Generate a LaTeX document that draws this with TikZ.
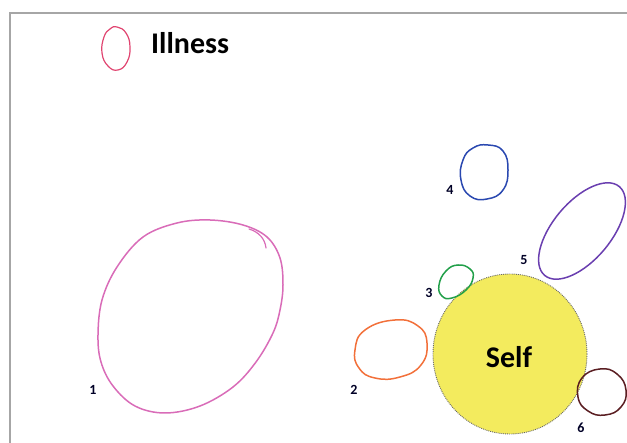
\documentclass[tikz,border=0pt]{standalone}
\usepackage{fontspec}
\setmainfont{Carlito}
\begin{document}
\begin{tikzpicture}[x=1pt,y=-1pt,
  pen/.style={line width=1.5pt,line cap=round,line join=round},
  numlabel/.style={font=\fontsize{14}{14}\selectfont\bfseries,text=black!85!blue,inner sep=0pt},
  bigtext/.style={font=\fontsize{30}{30}\selectfont\bfseries,inner sep=0pt}]
\definecolor{cpink}{HTML}{D96CB8}
\definecolor{clegend}{HTML}{E04470}
\definecolor{corange}{HTML}{F2703A}
\definecolor{cgreen}{HTML}{22A04A}
\definecolor{cblue}{HTML}{2A48B0}
\definecolor{cpurple}{HTML}{6A3FB0}
\definecolor{cbrown}{HTML}{5A1E22}
\definecolor{cyellow}{HTML}{F3EB5E}
\definecolor{cframe}{HTML}{A6A6A6}
\useasboundingbox (0,0) rectangle (627,443);
% frame
\draw[cframe,line width=1.5pt] (10,443) -- (10,13) -- (627,13);
% legend
\draw[pen,clegend,line width=1.2pt] plot[smooth cycle,tension=0.8] coordinates
  {(117,27) (126,33) (130,47) (127,62) (118,70) (108,66) (102,53) (104,37) (110,29)};
\node[bigtext,anchor=west] (illness) at (151,43) {Illness};
% ellipse 1
\draw[pen,cpink] plot[smooth cycle,tension=0.6] coordinates
  {(210,220) (243,225) (267,237) (280,258) (283,285) (280,310) (273,333) (256,362) (233,387)
   (200,406) (165,413) (135,406) (113,386) (101,362) (98,335) (102,300) (117,267) (143,237) (177,223)};
\draw[pen,cpink,line width=1.2pt] (249,229) .. controls (259,232) and (265,239) .. (266,248);
\node[numlabel] (n1) at (93,390) {1};
% self
\draw[fill=cyellow,draw=black!60,line width=0.9pt,densely dotted] (510,354) ellipse [x radius=77,y radius=80];
\node[bigtext] (self) at (509,357) {Self};
% 2 orange
\draw[pen,corange] plot[smooth cycle,tension=0.8] coordinates
  {(395,320) (418,326) (427,343) (421,365) (400,377) (375,378) (359,368) (355,350) (365,330)};
\node[numlabel] (n2) at (354,390) {2};
% 3 green
\draw[pen,cgreen] plot[smooth cycle,tension=0.8] coordinates
  {(458,265) (470,269) (473,278) (466,290) (452,298) (442,296) (439,285) (446,271)};
\node[numlabel] (n3) at (429,293) {3};
% 4 blue
\draw[pen,cblue] plot[smooth cycle,tension=0.8] coordinates
  {(488,145) (503,151) (508,170) (503,190) (487,199) (470,196) (461,180) (463,160) (473,148)};
\node[numlabel] (n4) at (450,190) {4};
% 5 purple
\draw[pen,cpurple,rotate around={50:(582,231)}] (582,231) ellipse [x radius=58,y radius=29];
\node[numlabel] (n5) at (524,260) {5};
% 6 brown
\draw[pen,cbrown] plot[smooth cycle,tension=0.8] coordinates
  {(600,369) (617,374) (626,390) (621,407) (605,415) (588,411) (578,397) (582,378)};
\node[numlabel] (n6) at (581,428) {6};
\end{tikzpicture}
\end{document}
